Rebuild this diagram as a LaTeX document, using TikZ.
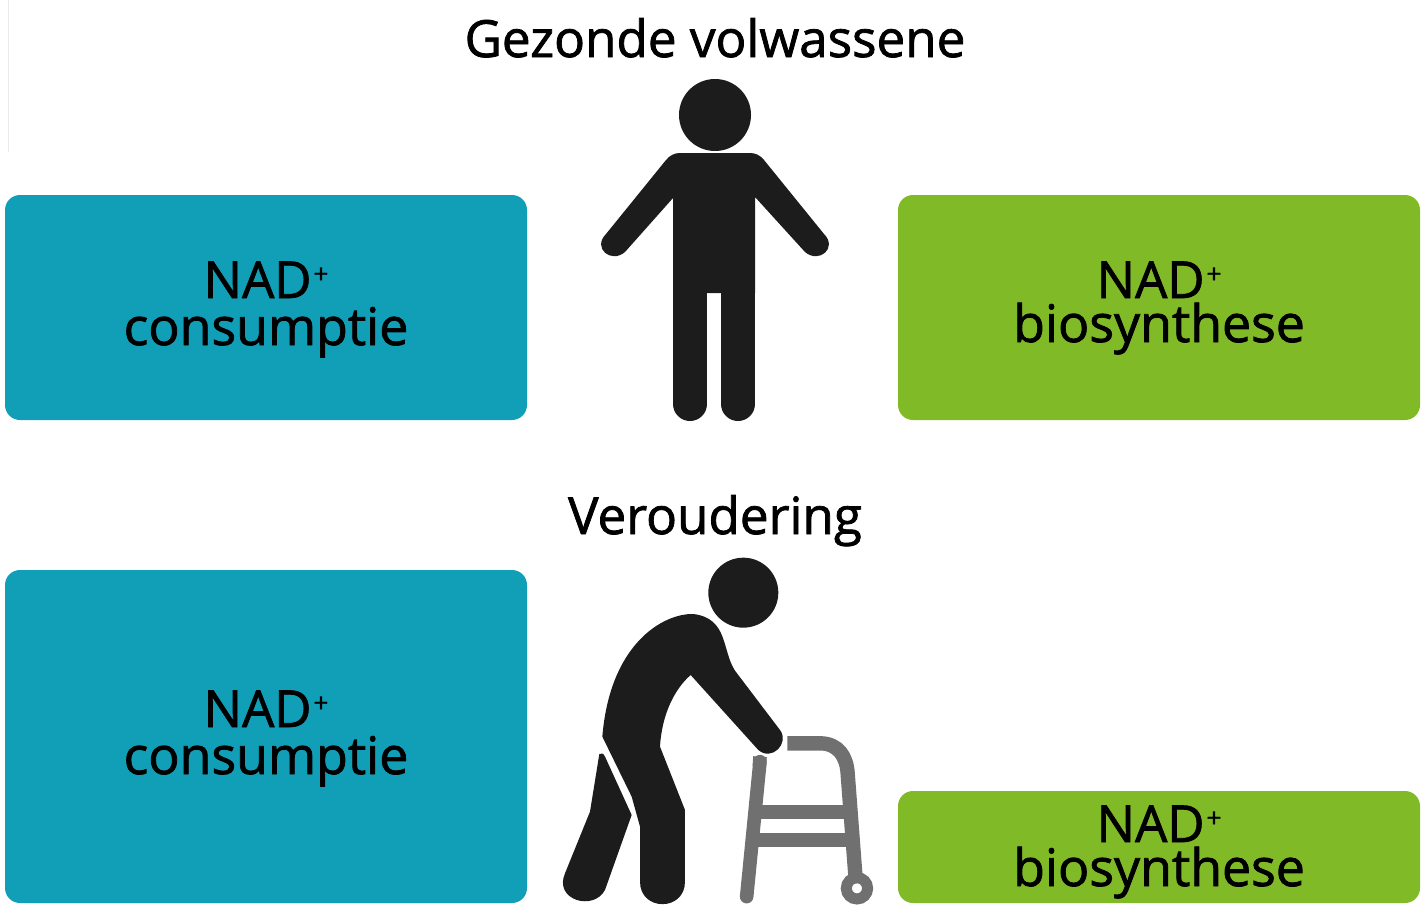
\documentclass[tikz,border=0pt]{standalone}
\usepackage{fontspec}
\setmainfont{Open Sans}[RawFeature={embolden=1.5}]
\usepackage{tikz}
\definecolor{consblue}{HTML}{119FB8}
\definecolor{synthgreen}{HTML}{80BA27}
\definecolor{figblack}{HTML}{1C1C1C}
\definecolor{framegray}{HTML}{707070}
\newcommand{\nadplus}{{\fontsize{25.5}{26}\selectfont NAD}\kern1pt\raisebox{7.5pt}{\fontsize{13}{13}\selectfont +}}
\tikzset{
    nadbox/.style={rounded corners=7.5pt,inner sep=0pt,minimum width=261pt},
    nadtext/.style={anchor=base,inner sep=0pt,font=\fontsize{25.9}{26}\selectfont,text=black},
    titletext/.style={anchor=base,inner sep=0pt,font=\fontsize{25.6}{26}\selectfont,text=black}
}

\begin{document}
\begin{tikzpicture}[x=0.5pt,y=-0.5pt]
    \useasboundingbox (0,0) rectangle (1427,910);
    \draw[black!8,line width=0.6pt] (8.5,0) -- (8.5,152);
    % boxes
    \node [nadbox,fill=consblue,minimum height=112.5pt] (consTop) at (266,307.5) {};
    \node [nadbox,fill=synthgreen,minimum height=112.5pt] (synthTop) at (1159,307.5) {};
    \node [nadbox,fill=consblue,minimum height=166.5pt] (consOld) at (266,736.5) {};
    \node [nadbox,fill=synthgreen,minimum height=56pt] (synthOld) at (1159,847) {};
    % labels
    \node [titletext] (titleTop) at (715,57) {Gezonde volwassene};
    \node [titletext] (titleOld) at (715,534) {Veroudering};
    \node [nadtext] (nadConsTop) at (266,298) {\nadplus};
    \node [nadtext] (wordConsTop) at (266,345) {consumptie};
    \node [nadtext] (nadSynthTop) at (1159,298) {\nadplus};
    \node [nadtext] (wordSynthTop) at (1159,342) {biosynthese};
    \node [nadtext] (nadConsOld) at (266,727) {\nadplus};
    \node [nadtext] (wordConsOld) at (266,774) {consumptie};
    \node [nadtext] (nadSynthOld) at (1159,842) {\nadplus};
    \node [nadtext] (wordSynthOld) at (1159,886) {biosynthese};
    % standing figure
    \fill[figblack] (715,115) circle (18pt);
    \fill[figblack] (673,198) -- (625,252) .. controls (611,264) and (592,248) .. (606,234)
        -- (666,160) .. controls (670,155) and (675,153) .. (680,153) -- (750,153)
        .. controls (755,153) and (760,155) .. (764,160) -- (824,234)
        .. controls (838,248) and (819,264) .. (805,252) -- (755,197) -- (755,293) -- (673,293) -- cycle;
    \foreach \lx in {690,738}{
        \draw[figblack,line width=17pt,line cap=round] (\lx,285) -- (\lx,404);
    }
    % frame
    \begin{scope}[shift={(550,540)},scale=0.3333]
        \draw[framegray,line width=6.8pt,line cap=round] (630,665) -- (590,1070);
        \draw[framegray,line width=6.8pt] (630,650) -- (628,680);
        \draw[framegray,line width=6.7pt] (612,816) -- (895,816);
        \draw[framegray,line width=7.2pt] (605,900) -- (900,900);
        \draw[framegray,line width=7.2pt] (712,610) -- (810,610) .. controls (865,610) and (890,650) .. (893,700) -- (918,1030);
        \draw[framegray,line width=5.5pt] (921,1045) circle (32);
    % bent figure
        \fill[figblack] (580,158) circle (105);
        \fill[figblack] (430,222) .. controls (340,220) and (180,310) .. (157,590)
            -- (245,770) -- (270,860) -- (270,1025) .. controls (270,1115) and (405,1115) .. (405,1025)
            -- (405,810) -- (330,620) .. controls (335,530) and (370,450) .. (422,405)
            -- (625,630) .. controls (665,665) and (720,610) .. (690,570)
            -- (555,392) .. controls (515,330) and (535,235) .. (430,222) -- cycle;
        \fill[figblack] (148,642) .. controls (155,638) and (160,640) .. (165,650)
            -- (245,825) -- (165,1050) .. controls (130,1115) and (10,1080) .. (45,1000)
            -- (120,815) -- cycle;
    \end{scope}
\end{tikzpicture}
\end{document}
